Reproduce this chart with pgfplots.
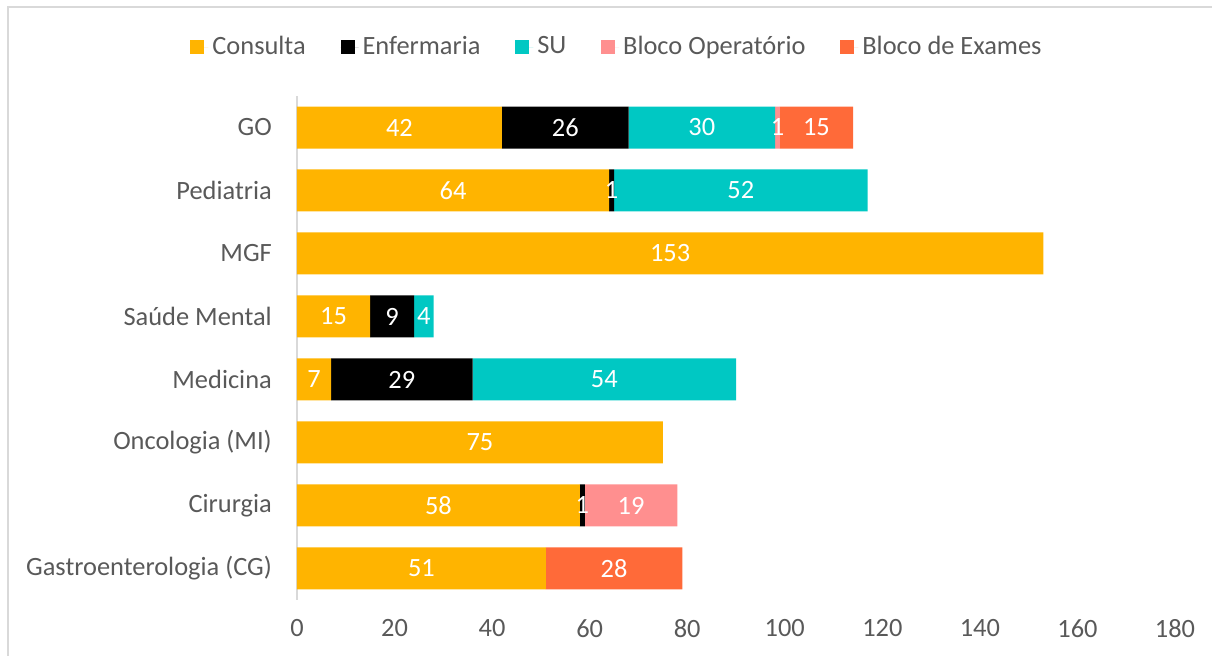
\documentclass[border=0pt]{standalone}
\usepackage{pgfplots}
\usepackage{pgfplotstable}
\pgfplotsset{compat=1.18}
\usepackage{fontspec}
\setmainfont{Carlito}
\definecolor{cCons}{HTML}{FFB400}
\definecolor{cEnf}{HTML}{000000}
\definecolor{cSU}{HTML}{00C8C3}
\definecolor{cBop}{HTML}{FF8F8F}
\definecolor{cBex}{HTML}{FF6A39}
\definecolor{txtgray}{HTML}{595959}
\definecolor{framegray}{HTML}{D9D9D9}
\pgfplotsset{
  hcenter labels/.style={
    every node near coord/.append style={
      anchor=center,
      check for zero/.code={\pgfmathfloatifflags{\pgfplotspointmeta}{0}{\pgfkeys{/tikz/coordinate}}{}},
      check for zero
    }
  }
}
\pgfplotstableread{
y cons enf su bop bex
7 42 26 30 1 15
6 64 1 52 0 0
5 153 0 0 0 0
4 15 9 4 0 0
3 7 29 54 0 0
2 75 0 0 0 0
1 58 1 0 19 0
0 51 0 0 0 28
}\data
\begin{document}
\fontsize{13.2}{15.8}\selectfont
\begin{tikzpicture}
\path[use as bounding box] (0,0) rectangle (606pt,328pt);
\draw[framegray, line width=1.2pt] (4pt,0) -- (4pt,324.5pt) -- (606pt,324.5pt);
\begin{axis}[
  at={(148.5pt,28pt)}, anchor=south west,
  scale only axis, width=439pt, height=252pt,
  xbar stacked, bar width=21pt,
  xmin=0, xmax=180, ymin=-0.5, ymax=7.5,
  clip=false,
  xtick={0,20,...,180},
  ytick={0,...,7},
  yticklabels={Gastroenterologia (CG),Cirurgia,Oncologia (MI),Medicina,Saúde Mental,MGF,Pediatria,GO},
  axis lines*=left,
  x axis line style={draw=none},
  y axis line style={draw=framegray, line width=1pt},
  tick style={draw=none},
  major tick length=0pt,
  /pgf/number format/assume math mode=true,
  ticklabel style={text=txtgray, font=\fontsize{13.2}{15.8}\selectfont},
  xticklabel style={yshift=-5pt},
  yticklabel style={xshift=-8pt},
  point meta=explicit,
  nodes near coords={\pgfmathprintnumber{\pgfplotspointmeta}},
  nodes near coords style={text=white, font=\fontsize{13.2}{15.8}\selectfont},
  hcenter labels,
  legend columns=5,
  legend style={draw=none, fill=none, at={(0.3656,1.097)}, anchor=center,
    font=\fontsize{13.2}{15.8}\selectfont, text=txtgray,
    /tikz/every even column/.append style={column sep=15.4pt}},
  legend image code/.code={\fill[#1] (0pt,-3.5pt) rectangle (7pt,3.5pt); \path (0pt,0pt) -- (9pt,0pt);},
]
\addplot[fill=cCons, draw=none] table[x=cons,y=y,meta=cons]{\data};
\addplot[fill=cEnf, draw=none] table[x=enf,y=y,meta=enf]{\data};
\addplot[fill=cSU, draw=none] table[x=su,y=y,meta=su]{\data};
\addplot[fill=cBop, draw=none] table[x=bop,y=y,meta=bop]{\data};
\addplot[fill=cBex, draw=none] table[x=bex,y=y,meta=bex]{\data};
\legend{Consulta,Enfermaria,SU,Bloco Operatório,Bloco de Exames}
\end{axis}
\end{tikzpicture}
\end{document}
